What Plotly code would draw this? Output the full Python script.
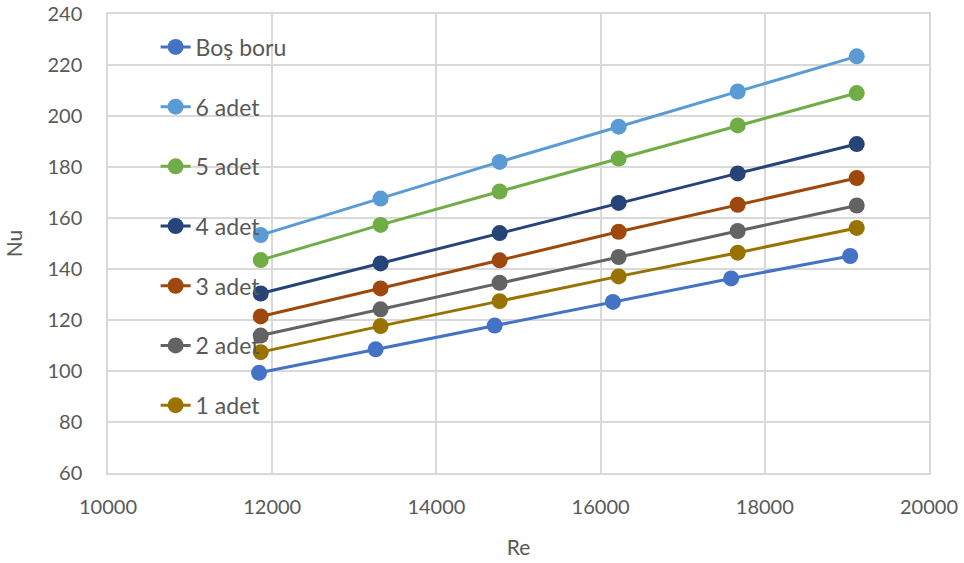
import plotly.graph_objects as go

re_bos = [11840, 13260, 14710, 16150, 17590, 19040]
re_adet = [11860, 13320, 14770, 16220, 17670, 19120]

nu_bos = [99.3, 108.5, 117.8, 127.1, 136.3, 145.1]
nu_1 = [107.4, 117.6, 127.4, 137.1, 146.4, 156.1]
nu_2 = [113.9, 124.2, 134.6, 144.7, 154.9, 164.9]
nu_3 = [121.4, 132.4, 143.4, 154.6, 165.2, 175.7]
nu_4 = [130.4, 142.2, 154.1, 165.9, 177.5, 189.0]
nu_5 = [143.5, 157.3, 170.4, 183.3, 196.3, 209.0]
nu_6 = [153.3, 167.6, 182.0, 195.8, 209.6, 223.4]

series = [
    ("Boş boru", re_bos, nu_bos, "#4472C4"),
    ("6 adet", re_adet, nu_6, "#5B9BD5"),
    ("5 adet", re_adet, nu_5, "#70AD47"),
    ("4 adet", re_adet, nu_4, "#264478"),
    ("3 adet", re_adet, nu_3, "#9E480E"),
    ("2 adet", re_adet, nu_2, "#636363"),
    ("1 adet", re_adet, nu_1, "#997300"),
]

x_ticks = [10000, 12000, 14000, 16000, 18000, 20000]
y_ticks = [60, 80, 100, 120, 140, 160, 180, 200, 220, 240]

fig = go.Figure()
for i, (name, xs, ys, col) in enumerate(series):
    fig.add_trace(go.Scatter(
        x=xs, y=ys, name=name, mode="lines+markers",
        line=dict(color=col, width=3),
        marker=dict(color=col, size=16),
        legendgroup="g%d" % i,
    ))

font_col = "#595959"
fig.update_layout(
    width=964, height=563,
    margin=dict(l=108, r=35, t=14, b=90, autoexpand=False),
    paper_bgcolor="white", plot_bgcolor="white",
    font=dict(family="Lato, Liberation Sans, sans-serif", size=20, color=font_col),
    legend=dict(
        x=0.058, y=0.975, xanchor="left", yanchor="top",
        bgcolor="rgba(0,0,0,0)", traceorder="grouped",
        tracegroupgap=26.8, font=dict(size=23, color=font_col),
        itemwidth=30,
    ),
    xaxis=dict(
        range=[10000, 20000], tickvals=x_ticks, ticktext=[str(v) for v in x_ticks],
        showgrid=True, gridcolor="#D9D9D9", gridwidth=1.5,
        showline=True, linecolor="#D9D9D9", linewidth=1.5, mirror=True,
        zeroline=False, ticks="", ticklabelstandoff=15, automargin=False,
        title=dict(text="Re", standoff=24, font=dict(size=21, color=font_col)),
    ),
    yaxis=dict(
        range=[60, 240], tickvals=y_ticks, ticktext=[str(v) for v in y_ticks],
        showgrid=True, gridcolor="#D9D9D9", gridwidth=1.5,
        showline=True, linecolor="#D9D9D9", linewidth=1.5, mirror=True,
        zeroline=False, ticks="", ticklabelstandoff=20, automargin=False,
        title=dict(text="Nu", standoff=19, font=dict(size=21, color=font_col)),
    ),
)

fig.write_html("out.html", config={"displayModeBar": False},
               post_script="document.body.style.margin='0';")
